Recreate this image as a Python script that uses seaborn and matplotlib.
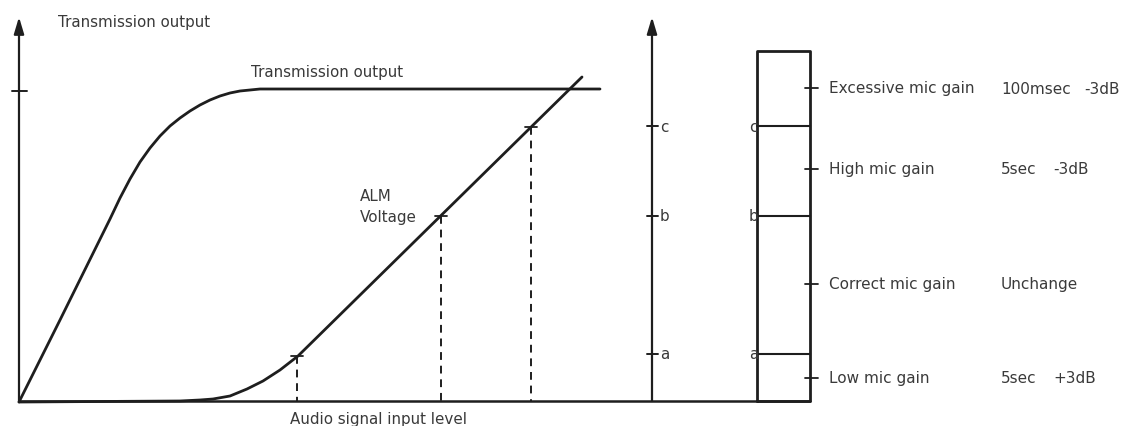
import matplotlib
matplotlib.use("Agg")
import matplotlib.pyplot as plt
import seaborn as sns
import pandas as pd

# ---- data (x = audio input level, y = output level measured from top, in chart units) ----
trans_x = [19, 60, 110, 120, 130, 140, 150, 160, 170, 180, 190, 200, 210, 220, 230, 240, 250, 260, 600]
trans_y = [403, 321, 220, 199, 180, 163, 149, 137, 127, 119, 112, 106, 101, 97, 94, 92, 91, 90, 90]

alm_x = [19, 180, 200, 213, 230, 247, 263, 280, 298, 582]
alm_y = [403, 402, 401, 400, 397, 390, 382, 371, 357, 78]

mark_x = [297, 441, 531]
mark_y = [357, 217, 128]

level_names = ["a", "b", "c"]
level_vals = [355, 217, 127]

gain_names = ["Excessive mic gain", "High mic gain", "Correct mic gain", "Low mic gain"]
gain_time = ["100msec", "5sec", "Unchange", "5sec"]
gain_db = ["-3dB", "-3dB", "", "+3dB"]
gain_pos = [89, 170, 285, 379]

# ---- layout ----
BASE = 402
LAX = 19
MAX = 652
BOX_L, BOX_R, BOX_T = 757, 810, 52
AX_TOP = 18

sns.set_style("white")
plt.rcParams['font.family'] = ['DejaVu Sans']
LC = "#1e1e1e"
TC = "#3a3a3a"
FS = 10.9
FS_R = 11.0

fig = plt.figure(figsize=(11.25, 4.27), dpi=100)
ax = fig.add_axes([0, 0, 1, 1])
ax.set_xlim(0, 1125)
ax.set_ylim(427, 0)
ax.axis("off")

df_t = pd.DataFrame({"x": trans_x, "y": trans_y})
df_a = pd.DataFrame({"x": alm_x, "y": alm_y})
sns.lineplot(data=df_t, x="x", y="y", sort=False, color=LC, lw=2.0, ax=ax)
sns.lineplot(data=df_a, x="x", y="y", sort=False, color=LC, lw=2.0, ax=ax)

# baseline
ax.plot([LAX, BOX_R], [BASE, BASE], color=LC, lw=1.8)

# axes with arrows
arrow = dict(arrowstyle="-|>,head_length=1.0,head_width=0.3", color=LC, lw=1.6, shrinkA=0, shrinkB=0)
ax.annotate("", xy=(LAX, AX_TOP), xytext=(LAX, BASE), arrowprops=arrow)
ax.annotate("", xy=(MAX, AX_TOP), xytext=(MAX, BASE), arrowprops=arrow)

# left axis tick at saturation level
ax.plot([LAX - 7, LAX + 8], [trans_y[-1] + 2, trans_y[-1] + 2], color=LC, lw=1.4)

# markers and dashed drop lines
for mx, my in zip(mark_x, mark_y):
    ax.plot([mx, mx], [my, BASE], color=LC, lw=1.4, ls=(0, (4, 3)))
    ax.plot([mx - 6, mx + 6], [my, my], color=LC, lw=1.3)

# middle axis ticks and labels
for n, v in zip(level_names, level_vals):
    ax.plot([MAX - 5, MAX + 6], [v, v], color=LC, lw=1.4)
    ax.text(MAX + 8, v, n, ha="left", va="center", fontsize=FS, color=TC)

# level box
ax.plot([BOX_L, BOX_L, BOX_R, BOX_R, BOX_L], [BASE, BOX_T, BOX_T, BASE, BASE], color=LC, lw=2.0)
for n, v in zip(level_names, level_vals):
    ax.plot([BOX_L, BOX_R], [v, v], color=LC, lw=1.5)
    ax.text(BOX_L + 1, v, n, ha="right", va="center", fontsize=FS, color=TC)

# gain descriptions
for name, t, db, y in zip(gain_names, gain_time, gain_db, gain_pos):
    ax.plot([BOX_R - 5, BOX_R + 8], [y, y], color=LC, lw=1.3)
    ax.text(829, y, name, ha="left", va="center", fontsize=FS_R, color=TC)
    ax.text(1001, y, t, ha="left", va="center", fontsize=FS_R, color=TC)
    if db:
        dx = 1084 if t == "100msec" else 1053
        ax.text(dx, y, db, ha="left", va="center", fontsize=FS_R, color=TC)

# labels
ax.text(58, 22, "Transmission output", ha="left", va="center", fontsize=FS, color=TC)
ax.text(251, 73, "Transmission output", ha="left", va="center", fontsize=FS, color=TC)
ax.text(360, 197, "ALM", ha="left", va="center", fontsize=FS, color=TC)
ax.text(360, 218, "Voltage", ha="left", va="center", fontsize=FS, color=TC)
ax.text(290, 420, "Audio signal input level", ha="left", va="center", fontsize=FS, color=TC)

fig.savefig("out.png", dpi=100)
